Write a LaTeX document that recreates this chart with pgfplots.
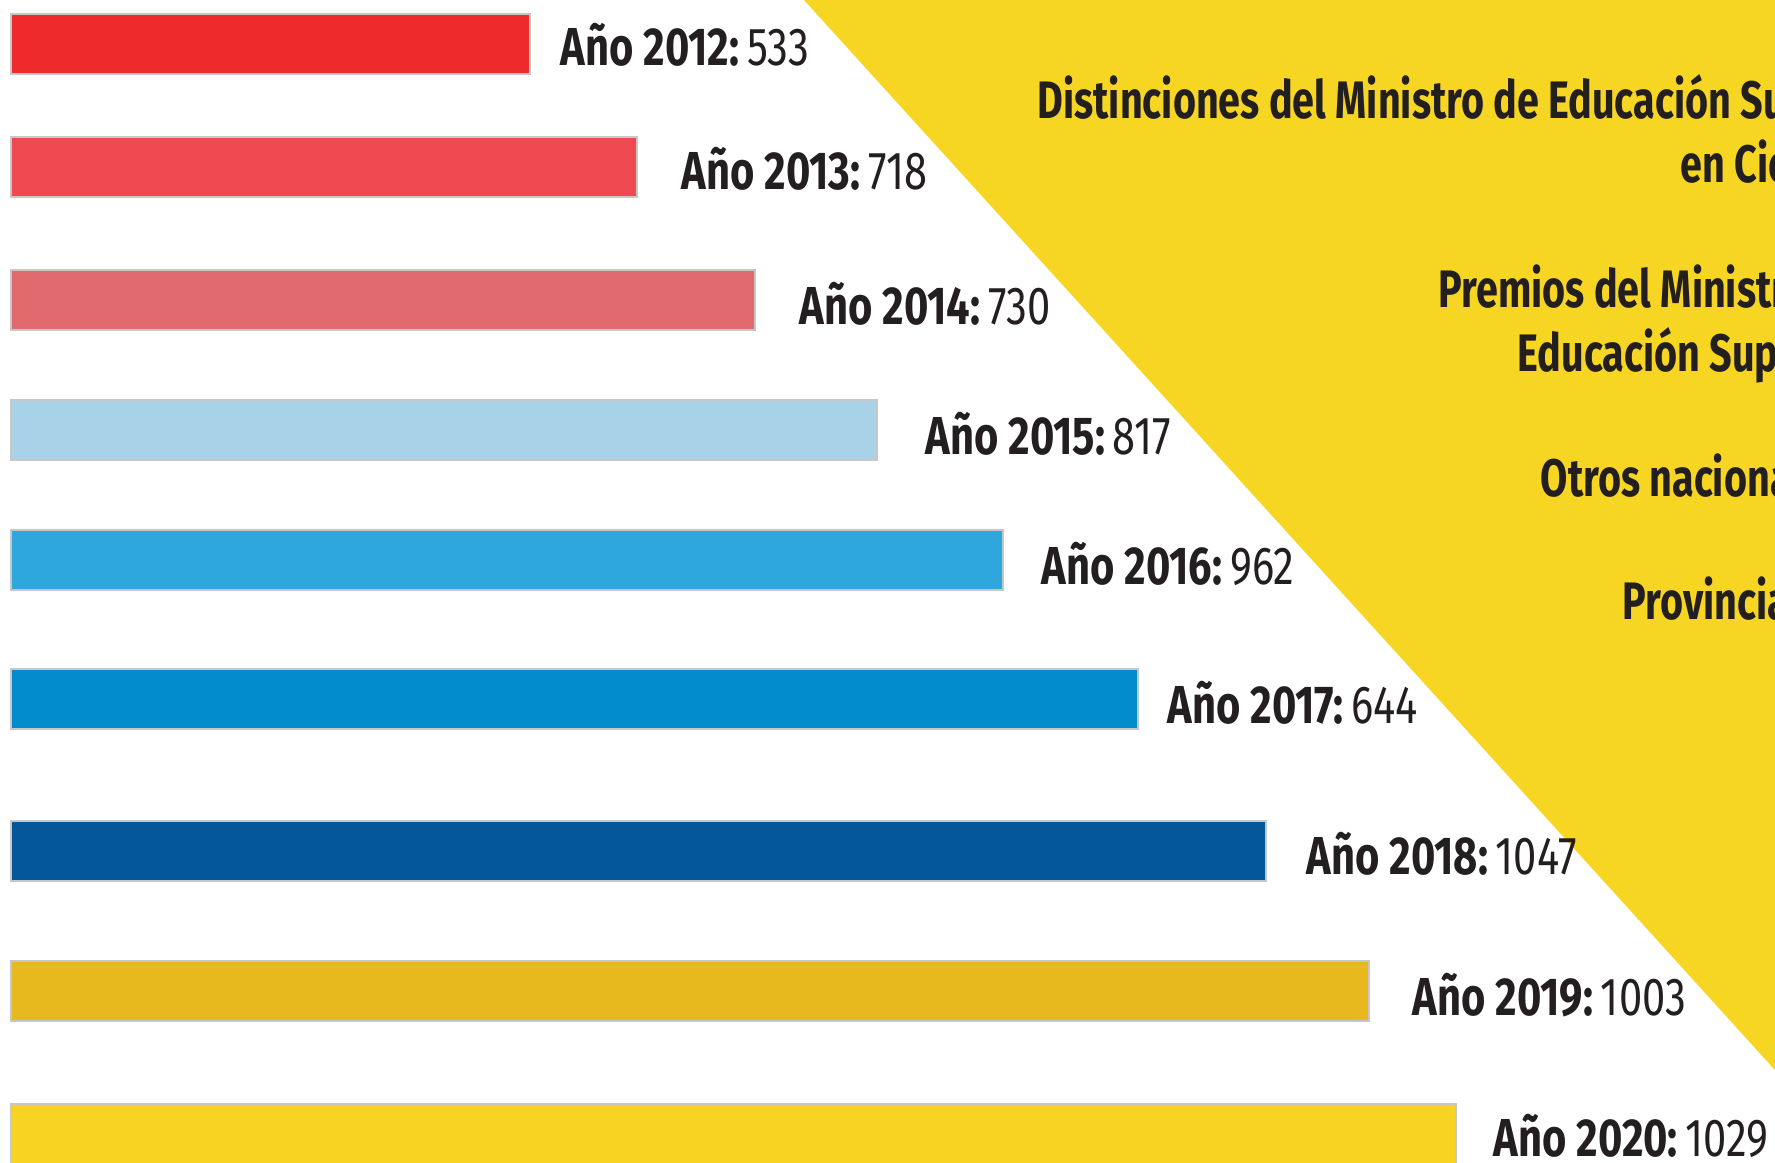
\documentclass[border=0pt]{standalone}
\usepackage{fontspec}
\setmainfont{Fira Sans}[FakeStretch=0.78]
\newfontfamily\ttlfont{Fira Sans}[FakeStretch=0.75]
\usepackage{pgfplots}
\pgfplotsset{compat=1.18}
\definecolor{c12}{HTML}{EE2B2A}
\definecolor{c13}{HTML}{EE4850}
\definecolor{c14}{HTML}{E0696D}
\definecolor{c15}{HTML}{A8D2E8}
\definecolor{c16}{HTML}{2EA8DC}
\definecolor{c17}{HTML}{028CCD}
\definecolor{c18}{HTML}{04589A}
\definecolor{c19}{HTML}{E8B81F}
\definecolor{c20}{HTML}{F7D422}
\definecolor{ylw}{HTML}{F7D523}
\definecolor{ink}{HTML}{231F20}
\tikzset{
  lbl/.style={anchor=base west, inner sep=0pt, text=ink,
    font=\fontsize{15.2pt}{18pt}\selectfont},
  ttl/.style={anchor=base west, inner sep=0pt, text=ink,
    font=\ttlfont\fontsize{15pt}{18pt}\selectfont\bfseries},
}
\newcommand{\yr}[2]{\textbf{Año #1:}\hspace{2.2pt}#2}

\begin{document}
\begin{tikzpicture}
\begin{axis}[
  width=177.5mm, height=116.2mm, scale only axis,
  xmin=-11, xmax=1764, ymin=0, ymax=1162, y dir=reverse,
  hide axis, clip=false,
  xbar, bar width=60, bar shift=0pt,
  every axis plot/.append style={draw=black!22, line width=0.5pt},
]
% yellow corner
\fill[ylw] (axis cs:793,0) -- (axis cs:1764,0) -- (axis cs:1764,1070) -- cycle;

% bar lengths as drawn in the graphic (px from left edge)
\addplot[fill=c12] coordinates {(519,44)};
\addplot[fill=c13] coordinates {(626,167)};
\addplot[fill=c14] coordinates {(744,300)};
\addplot[fill=c15] coordinates {(866,430)};
\addplot[fill=c16] coordinates {(992,560)};
\addplot[fill=c17] coordinates {(1127,699)};
\addplot[fill=c18] coordinates {(1255,851)};
\addplot[fill=c19] coordinates {(1358,991)};
\addplot[fill=c20] coordinates {(1445,1134)};

\node[lbl] at (axis cs:549,65)   {\yr{2012}{533}};
\node[lbl] at (axis cs:670,189)  {\yr{2013}{718}};
\node[lbl] at (axis cs:788,324)  {\yr{2014}{730}};
\node[lbl] at (axis cs:914,454)  {\yr{2015}{817}};
\node[lbl] at (axis cs:1030,584) {\yr{2016}{962}};
\node[lbl] at (axis cs:1156,723) {\yr{2017}{644}};
\node[lbl] at (axis cs:1295,874) {\yr{2018}{1047}};
\node[lbl] at (axis cs:1401,1015){\yr{2019}{1003}};
\node[lbl] at (axis cs:1482,1156){\yr{2020}{1029}};

\node[ttl] at (axis cs:1026,118) {Distinciones del Ministro de Educación Superior};
\node[ttl] at (axis cs:1669,182) {en Ciencias};
\node[ttl] at (axis cs:1427,307) {Premios del Ministro de};
\node[ttl] at (axis cs:1506,371) {Educación Superior};
\node[ttl] at (axis cs:1529,496) {Otros nacionales};
\node[ttl] at (axis cs:1611,619) {Provinciales};
\end{axis}
\pgfresetboundingbox
\path[use as bounding box] (0,0) rectangle (177.5mm,116.2mm);
\end{tikzpicture}
\end{document}
